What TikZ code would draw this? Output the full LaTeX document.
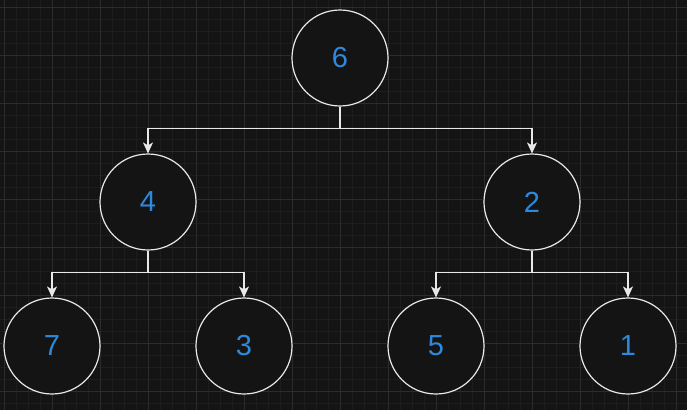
\documentclass[tikz,border=0pt]{standalone}
\usepackage{fontspec}
\setmainfont{Liberation Sans}
\usetikzlibrary{arrows.meta}
\definecolor{bgcol}{HTML}{141414}
\definecolor{minorgrid}{HTML}{1D1D1D}
\definecolor{majorgrid}{HTML}{2C2C2C}
\definecolor{numblue}{HTML}{2D89DD}
\definecolor{edgecol}{HTML}{E8E8E8}
\tikzset{
  treenode/.style={circle, draw=edgecol, line width=1.2pt, fill=bgcol,
    minimum size=96pt, inner sep=0pt, text=numblue, font=\fontsize{29}{29}\selectfont},
  link/.style={draw=edgecol, line width=1.2pt,
    -{Stealth[length=11pt, width=10pt, inset=3pt]}},
}
\begin{document}
\begin{tikzpicture}[x=1pt, y=-1pt]
  % canvas and grid
  \fill[bgcol] (0,0) rectangle (687,410);
  \useasboundingbox (0,0) rectangle (687,410);
  \foreach \gx in {4,16,...,687} \draw[minorgrid, line width=0.8pt] (\gx,0) -- (\gx,410);
  \foreach \gy in {7,19,...,410} \draw[minorgrid, line width=0.8pt] (0,\gy) -- (687,\gy);
  \foreach \gx in {4,52,...,687} \draw[majorgrid, line width=0.8pt] (\gx,0) -- (\gx,410);
  \foreach \gy in {7,55,...,410} \draw[majorgrid, line width=0.8pt] (0,\gy) -- (687,\gy);

  % tree nodes
  \node[treenode] (n6) at (340,58) {6};
  \node[treenode] (n4) at (148,202) {4};
  \node[treenode] (n2) at (532,202) {2};
  \node[treenode] (n7) at (52,346) {7};
  \node[treenode] (n3) at (244,346) {3};
  \node[treenode] (n5) at (436,346) {5};
  \node[treenode] (n1) at (628,346) {1};

  % connectors
  \draw[link] (n6.south) -- ++(0,22) -| (n4.north);
  \draw[link] (n6.south) -- ++(0,22) -| (n2.north);
  \draw[link] (n4.south) -- ++(0,22) -| (n7.north);
  \draw[link] (n4.south) -- ++(0,22) -| (n3.north);
  \draw[link] (n2.south) -- ++(0,22) -| (n5.north);
  \draw[link] (n2.south) -- ++(0,22) -| (n1.north);
\end{tikzpicture}
\end{document}
